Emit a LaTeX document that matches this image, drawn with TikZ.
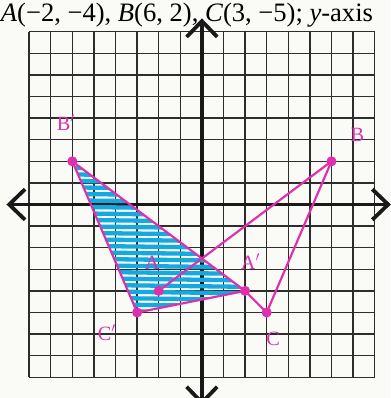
\documentclass[tikz,border=0pt]{standalone}
\usepackage{fontspec}
\setmainfont{Liberation Serif}
\usetikzlibrary{arrows.meta,positioning}
\definecolor{paper}{RGB}{250,250,247}
\definecolor{gridclr}{RGB}{45,45,45}
\definecolor{pen}{RGB}{222,48,172}
\definecolor{hilite}{RGB}{20,170,225}
\tikzset{
  gridln/.style={draw=gridclr,line width=1.1pt},
  axis/.style={draw=black!90,line width=3pt,
    {Straight Barb[length=4.4mm,width=8.5mm]}-{Straight Barb[length=4.4mm,width=8.5mm]}},
  side/.style={draw=pen,line width=1.7pt},
  dot/.style={circle,fill=pen,inner sep=0pt,minimum size=2.8mm},
  hand/.style={font=\fontsize{16}{16}\selectfont,text=pen,inner sep=0pt},
  scrib/.style={draw=hilite,line width=3.4pt,line cap=round},
}
\begin{document}
\begin{tikzpicture}[x=0.6cm,y=0.6cm]
  \useasboundingbox[fill=paper] (-9.35,-8.96) rectangle (8.71,9.47);
  % problem statement
  \node[anchor=base west,inner sep=0pt,font=\fontsize{21}{22}\selectfont] (task) at (-9.32,8.47)
    {\textit{A}(−2, −4), \textit{B}(6, 2), \textit{C}(3, −5); \textit{y}-axis};

  % grid
  \foreach \i in {-8,...,8} {
    \draw[gridln] (\i,-8) -- (\i,8);
    \draw[gridln] (-8,\i) -- (8,\i);
  }
  \coordinate (xl) at (-9.05,0);
  \coordinate (xr) at (8.75,0);
  \coordinate (yt) at (0,8.62);
  \coordinate (yb) at (0,-9.3);
  \draw[axis] (xl) -- (xr);
  \draw[axis] (yb) -- (yt);

  % triangle and its image
  \coordinate (A) at (-2,-4);
  \coordinate (B) at (6,2);
  \coordinate (C) at (3,-5);
  \coordinate (Ap) at (2,-4);
  \coordinate (Bp) at (-6,2);
  \coordinate (Cp) at (-3,-5);

  \begin{scope}
    \clip (Bp) -- (Cp) -- (Ap) -- cycle;
    \foreach \y in {2,1.7,...,-5.2}
      \draw[scrib] (-6.6,\y) -- (2.6,\y-0.12);
  \end{scope}

  \foreach \a/\b in {Bp/Ap,Bp/Cp,Cp/Ap,A/B,B/C,C/Ap}
    \draw[side] (\a) -- (\b);
  \foreach \p in {A,B,C,Ap,Bp,Cp}
    \node[dot] at (\p) {};

  \node[hand] (lBp) at (-6.3,3.8) {B$'$};
  \node[hand] (lB)  at (7.2,3.2)  {B};
  \node[hand] (lA)  at (-2.3,-2.7) {A};
  \node[hand] (lAp) at (2.25,-2.65) {A$'$};
  \node[hand] (lC)  at (3.3,-6.2) {C};
  \node[hand] (lCp) at (-4.4,-5.95) {C$'$};
\end{tikzpicture}
\end{document}
